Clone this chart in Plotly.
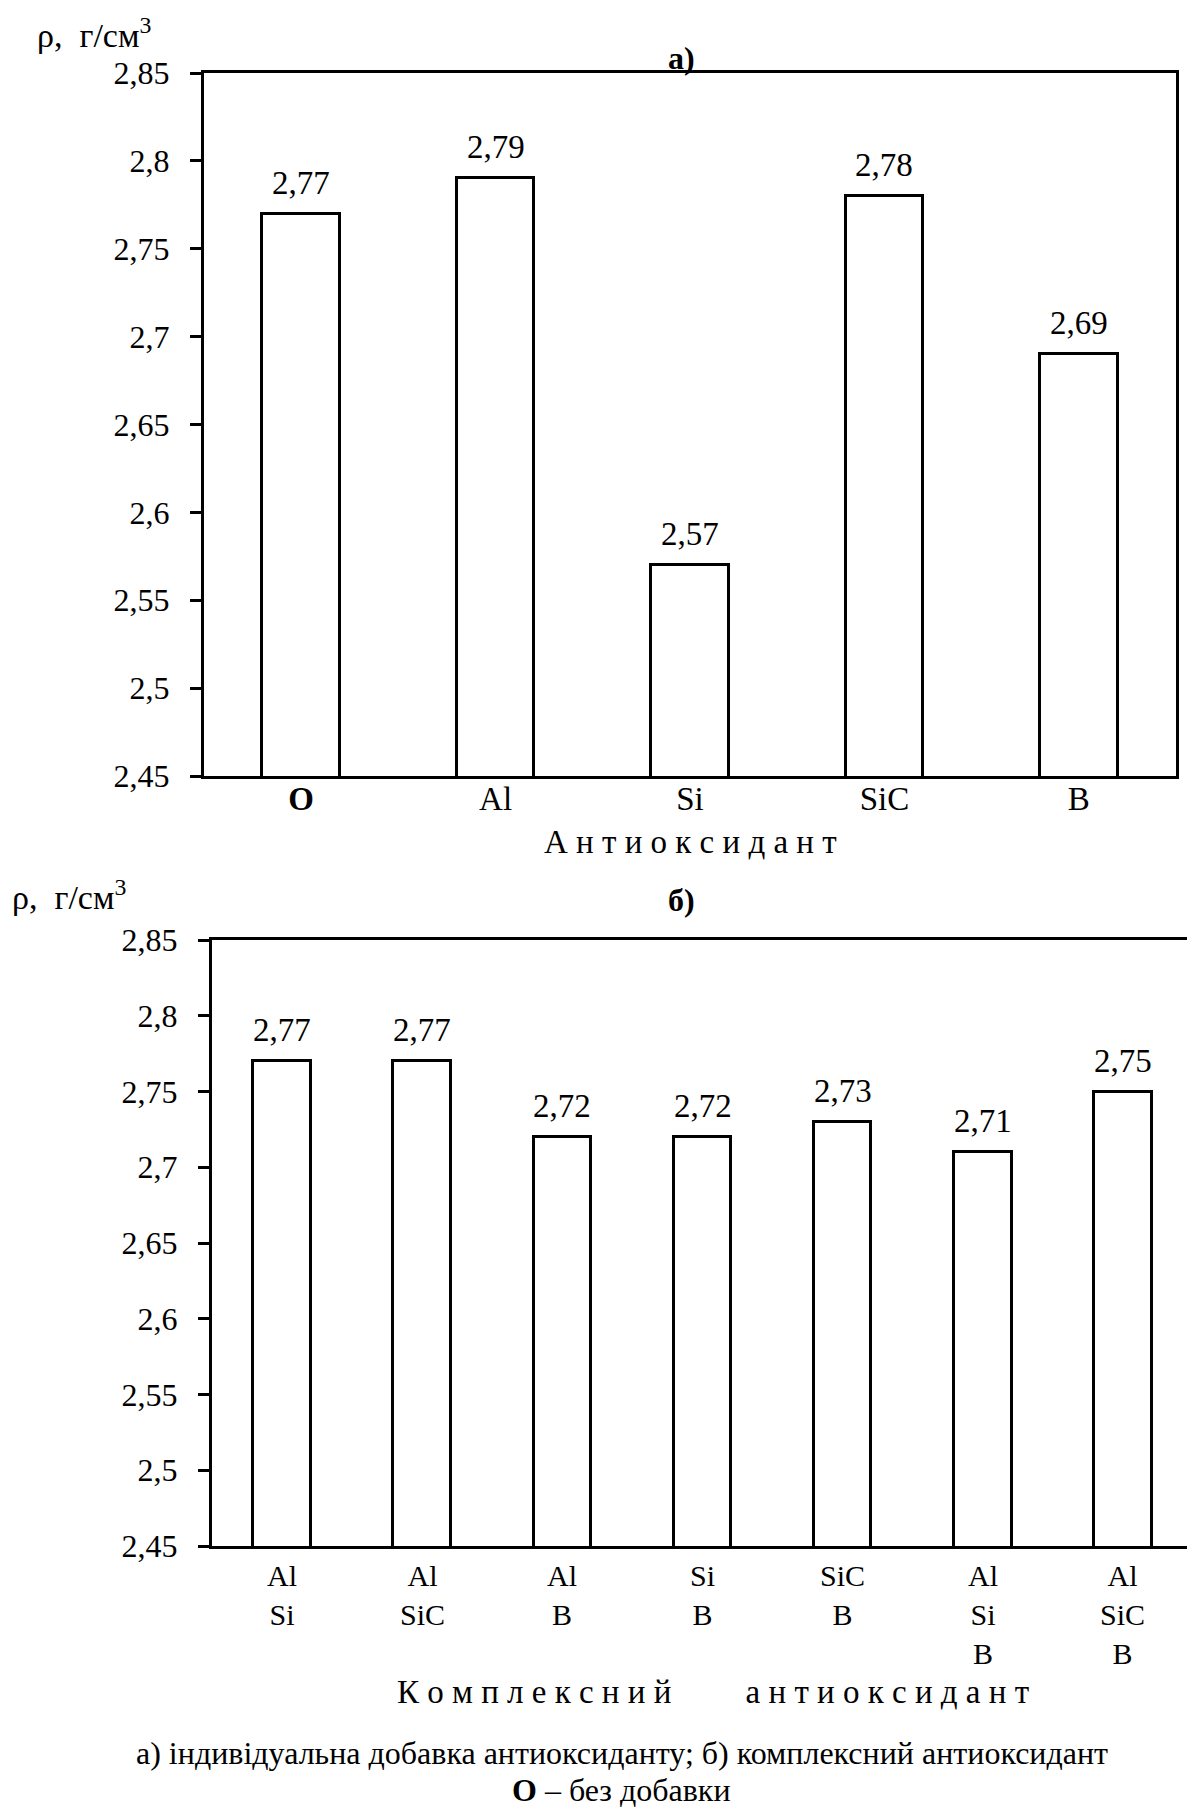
import plotly.graph_objects as go

# ---- data ----
cats_a = ["O", "Al", "Si", "SiC", "B"]
labels_a = ["<b>O</b>", "Al", "Si", "SiC", "B"]
vals_a = [2.77, 2.79, 2.57, 2.78, 2.69]

cats_b = ["Al/Si", "Al/SiC", "Al/B", "Si/B", "SiC/B", "Al/Si/B", "Al/SiC/B"]
labels_b = ["Al<br>Si", "Al<br>SiC", "Al<br>B", "Si<br>B", "SiC<br>B",
            "Al<br>Si<br>B", "Al<br>SiC<br>B"]
vals_b = [2.77, 2.77, 2.72, 2.72, 2.73, 2.71, 2.75]

ytick_vals = [2.45, 2.5, 2.55, 2.6, 2.65, 2.7, 2.75, 2.8, 2.85]
ytick_text = ["2,45", "2,5", "2,55", "2,6", "2,65", "2,7", "2,75", "2,8", "2,85"]

# page body margin compensation
OX, OY = 8, 8
W, H = 1187, 1799
FONT = "Liberation Serif"


def px(p):
    return (p - OX) / W


def py(p):
    return 1 - (p - OY) / H


def fmt(v):
    return f"{v:.2f}".replace(".", ",")


fig = go.Figure()
fig.add_trace(go.Bar(x=cats_a, y=vals_a, width=0.4,
                     marker=dict(color="white", line=dict(color="black", width=3)),
                     xaxis="x", yaxis="y", showlegend=False, hoverinfo="skip"))
fig.add_trace(go.Bar(x=cats_b, y=vals_b, width=0.41,
                     marker=dict(color="white", line=dict(color="black", width=3)),
                     xaxis="x2", yaxis="y2", showlegend=False, hoverinfo="skip"))

axis_common = dict(showline=True, linecolor="black", linewidth=3, mirror=True,
                   showgrid=False, zeroline=False, automargin=False)

fig.update_layout(
    template="none",
    width=W, height=H, autosize=False,
    margin=dict(l=0, r=0, t=0, b=0, pad=0),
    paper_bgcolor="white", plot_bgcolor="white",
    font=dict(family=FONT, color="black", size=32),
    bargap=0,
    xaxis=dict(domain=[px(204), px(1176)], anchor="y", type="category",
               tickvals=cats_a, ticktext=labels_a, ticks="",
               tickfont=dict(size=33), ticklabelstandoff=-9, **axis_common),
    yaxis=dict(domain=[py(776), py(73)], anchor="x", range=[2.45, 2.85],
               tickvals=ytick_vals, ticktext=ytick_text, ticks="outside",
               ticklen=11, tickwidth=3, tickcolor="black",
               tickfont=dict(size=32), ticklabelstandoff=14, **axis_common),
    xaxis2=dict(domain=[px(212), px(1193)], anchor="y2", type="category",
                tickvals=cats_b, showticklabels=False, ticks="", **axis_common),
    yaxis2=dict(domain=[py(1546), py(940)], anchor="x2", range=[2.45, 2.85],
                tickvals=ytick_vals, ticktext=ytick_text, ticks="outside",
                ticklen=11, tickwidth=3, tickcolor="black",
                tickfont=dict(size=32), ticklabelstandoff=14, **axis_common),
)

ann = []
# value labels
for c, v in zip(cats_a, vals_a):
    ann.append(dict(x=c, y=v, xref="x", yref="y", text=fmt(v), showarrow=False,
                    yanchor="bottom", yshift=11, font=dict(size=33)))
for c, v in zip(cats_b, vals_b):
    ann.append(dict(x=c, y=v, xref="x2", yref="y2", text=fmt(v), showarrow=False,
                    yanchor="bottom", yshift=11, font=dict(size=33)))

# multi-line category labels of chart b
for c, t in zip(cats_b, labels_b):
    ann.append(dict(x=c, y=py(1557), xref="x2", yref="paper", text=t,
                    showarrow=False, yanchor="top", font=dict(size=30)))


def text_at(x, baseline, text, size, xanchor="center"):
    ann.append(dict(x=px(x), y=py(baseline - 0.3 * size), xref="paper", yref="paper",
                    text=text, showarrow=False, xanchor=xanchor, yanchor="middle",
                    font=dict(size=size)))


ylab = "ρ,\u00a0 г/см<sup>3</sup>"
text_at(35, 43, ylab, 34, "left")
text_at(10, 905, ylab, 34, "left")
text_at(681, 68, "<b>а)</b>", 32)
text_at(681, 910, "<b>б)</b>", 32)
text_at(690, 852, " ".join("Антиоксидант"), 33)
text_at(713, 1702, " ".join("Комплексний") + "\u00a0" * 9 + " ".join("антиоксидант"), 33)
text_at(622, 1763, "а) індивідуальна добавка антиоксиданту; б) комплексний антиоксидант", 32)
text_at(622, 1800, "<b>О</b> – без добавки", 32)

fig.update_layout(annotations=ann)
fig.write_html("out.html")
